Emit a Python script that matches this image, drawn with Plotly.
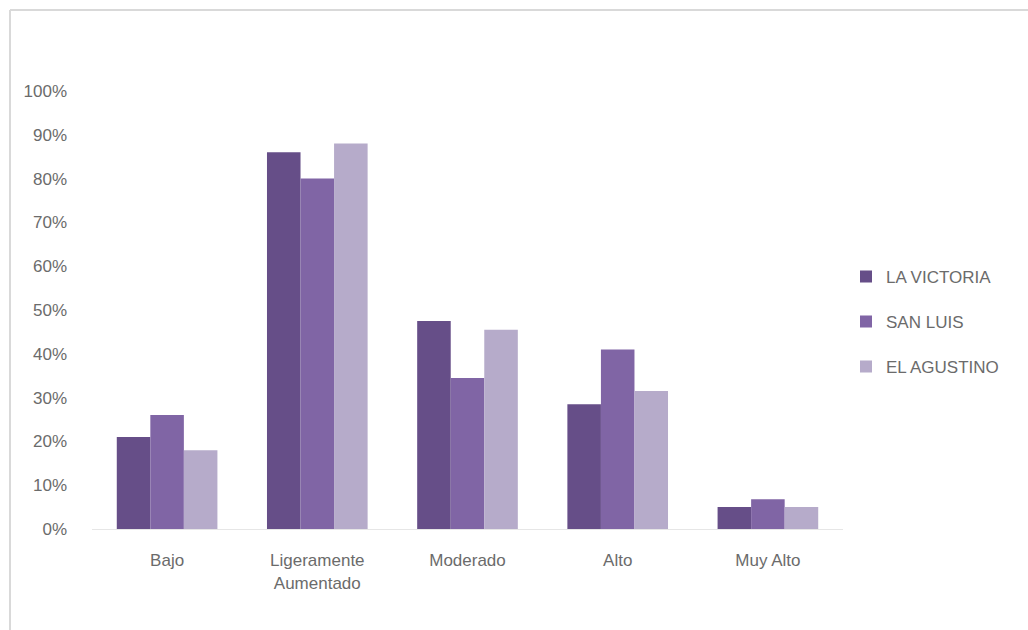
import plotly.graph_objects as go

categories = ["Bajo", "Ligeramente<br>Aumentado", "Moderado", "Alto", "Muy Alto"]
series_names = ["LA VICTORIA", "SAN LUIS", "EL AGUSTINO"]
la_victoria = [0.21, 0.86, 0.475, 0.285, 0.05]
san_luis = [0.26, 0.80, 0.345, 0.41, 0.068]
el_agustino = [0.18, 0.88, 0.455, 0.315, 0.05]
tick_vals = [i / 10 for i in range(11)]
tick_text = [f"{i*10}%" for i in range(11)]

colors = ["#664e88", "#8065a5", "#b6abca"]
values = [la_victoria, san_luis, el_agustino]

W, H = 1028, 630
ml, mr, mt, mb = 92, 185, 91, 101

fig = go.Figure()
for name, vals, c in zip(series_names, values, colors):
    fig.add_trace(go.Bar(x=categories, y=vals, name=name, marker_color=c,
                         marker_line_width=0, legendgroup=name))

pw = W - ml - mr
ph = H - mt - mb
def px_x(x):
    return (x - ml) / pw
def px_y(y):
    return (H - mb - y) / ph

font_fam = "Liberation Sans, Arial"
txt = "#6b6b6b"
fig.update_layout(
    width=W, height=H,
    margin=dict(l=ml, r=mr, t=mt, b=mb),
    paper_bgcolor="white", plot_bgcolor="white",
    barmode="group", bargap=0.33, bargroupgap=0,
    font=dict(family=font_fam, size=17, color=txt),
    showlegend=True,
    legend=dict(x=px_x(846), y=0.473, xanchor="left", yanchor="middle",
                traceorder="grouped", tracegroupgap=20,
                font=dict(size=17, color=txt, family=font_fam)),
    xaxis=dict(showgrid=False, showline=True, linecolor="#e6e6e6", linewidth=1,
               ticks="", ticklabelstandoff=16, tickfont=dict(size=17, color=txt)),
    yaxis=dict(range=[0, 1], tickvals=tick_vals, ticktext=tick_text,
               showgrid=False, zeroline=False, showline=False,
               ticks="", ticklabelstandoff=24, tickfont=dict(size=17, color=txt)),
    shapes=[
        dict(type="line", xref="paper", yref="paper",
             x0=px_x(10), x1=px_x(1028), y0=px_y(10), y1=px_y(10),
             line=dict(color="#d9d9d9", width=2)),
        dict(type="line", xref="paper", yref="paper",
             x0=px_x(10), x1=px_x(10), y0=px_y(10), y1=px_y(630),
             line=dict(color="#d9d9d9", width=2)),
    ],
)

fig.write_html("out.html")
